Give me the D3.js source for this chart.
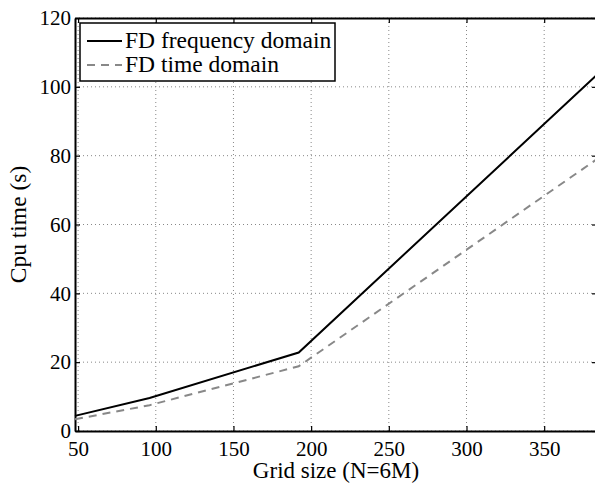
<!DOCTYPE html>
<html>
<head>
<meta charset="utf-8">
<script src="https://cdn.jsdelivr.net/npm/d3@7"></script>
<style>
  body { margin: 0; background: #fff; }
  svg text { font-family: "Liberation Serif", "Times New Roman", Times, "DejaVu Serif", serif; }
</style>
</head>
<body>
<svg id="chart" width="595" height="483"></svg>
<script>
const gridSizes = [48, 96, 192, 384];
const freqDomain = [4.4, 9.6, 22.8, 103.5];
const timeDomain = [3.4, 7.5, 18.8, 79];
const xTicks = [50, 100, 150, 200, 250, 300, 350];
const yTicks = [0, 20, 40, 60, 80, 100, 120];
const seriesNames = ["FD frequency domain", "FD time domain"];

const svg = d3.select("#chart");
const mLeft = 75, mRight = 597, mTop = 18, mBottom = 431;
const serif = "'Liberation Serif', 'Times New Roman', Times, 'DejaVu Serif', serif";

const x = d3.scaleLinear([48, 384], [mLeft, mRight]);
const y = d3.scaleLinear([0, 120], [mBottom, mTop]);

// grid
const grid = svg.append("g").attr("stroke", "#888").attr("stroke-width", 1).attr("stroke-dasharray", "1,3");
grid.selectAll(".gx").data(xTicks).enter().append("line")
  .attr("x1", d => x(d)).attr("x2", d => x(d)).attr("y1", mTop).attr("y2", mBottom);
grid.selectAll(".gy").data(yTicks).enter().append("line")
  .attr("y1", d => y(d)).attr("y2", d => y(d)).attr("x1", mLeft).attr("x2", mRight);

// axes
svg.append("g")
  .attr("transform", "translate(0," + mBottom + ")")
  .call(d3.axisBottom(x).tickValues(xTicks).tickSizeInner(-5).tickSizeOuter(0).tickPadding(10))
  .call(g => g.select(".domain").attr("stroke-width", 2));
svg.append("g")
  .attr("transform", "translate(" + mLeft + ",0)")
  .call(d3.axisLeft(y).tickValues(yTicks).tickSizeInner(-5).tickSizeOuter(0).tickPadding(4))
  .call(g => g.select(".domain").attr("stroke-width", 2));
svg.append("g")
  .attr("transform", "translate(0," + mTop + ")")
  .call(d3.axisTop(x).tickValues(xTicks).tickSizeInner(-5).tickSizeOuter(0).tickFormat(""))
  .call(g => g.select(".domain").attr("stroke-width", 2));
svg.append("g")
  .attr("transform", "translate(" + mRight + ",0)")
  .call(d3.axisRight(y).tickValues(yTicks).tickSizeInner(-5).tickSizeOuter(0).tickFormat(""))
  .call(g => g.select(".domain").attr("stroke-width", 2));

svg.selectAll("g").attr("font-family", serif);
svg.selectAll(".tick text").attr("font-size", 21).attr("fill", "#000");
svg.selectAll(".tick line").attr("stroke-width", 1.2);

// lines
const line = d3.line().x((d, i) => x(gridSizes[i])).y(d => y(d));
svg.append("path").datum(freqDomain).attr("d", line)
  .attr("fill", "none").attr("stroke", "#000").attr("stroke-width", 2);
svg.append("path").datum(timeDomain).attr("d", line)
  .attr("fill", "none").attr("stroke", "#888").attr("stroke-width", 2).attr("stroke-dasharray", "8,6");

// labels
svg.append("text").attr("x", (mLeft + mRight) / 2).attr("y", 478)
  .attr("text-anchor", "middle").attr("font-size", 23).attr("font-family", serif).text("Grid size (N=6M)");
svg.append("text").attr("transform", "translate(26," + (mTop + mBottom) / 2 + ") rotate(-90)")
  .attr("text-anchor", "middle").attr("font-size", 23.5).attr("font-family", serif).text("Cpu time (s)");

// legend
const lg = svg.append("g");
lg.append("rect").attr("x", 80).attr("y", 23).attr("width", 255).attr("height", 58)
  .attr("fill", "#fff").attr("stroke", "#000").attr("stroke-width", 1.5);
const styles = [{c: "#000", d: null}, {c: "#888", d: "8,6"}];
seriesNames.forEach((name, i) => {
  const yy = 41 + i * 24;
  lg.append("line").attr("x1", 87).attr("x2", 122).attr("y1", yy).attr("y2", yy)
    .attr("stroke", styles[i].c).attr("stroke-width", 2).attr("stroke-dasharray", styles[i].d);
  lg.append("text").attr("x", 125).attr("y", yy + 7).attr("font-size", 23.5)
    .attr("font-family", serif).text(name);
});
</script>
</body>
</html>
